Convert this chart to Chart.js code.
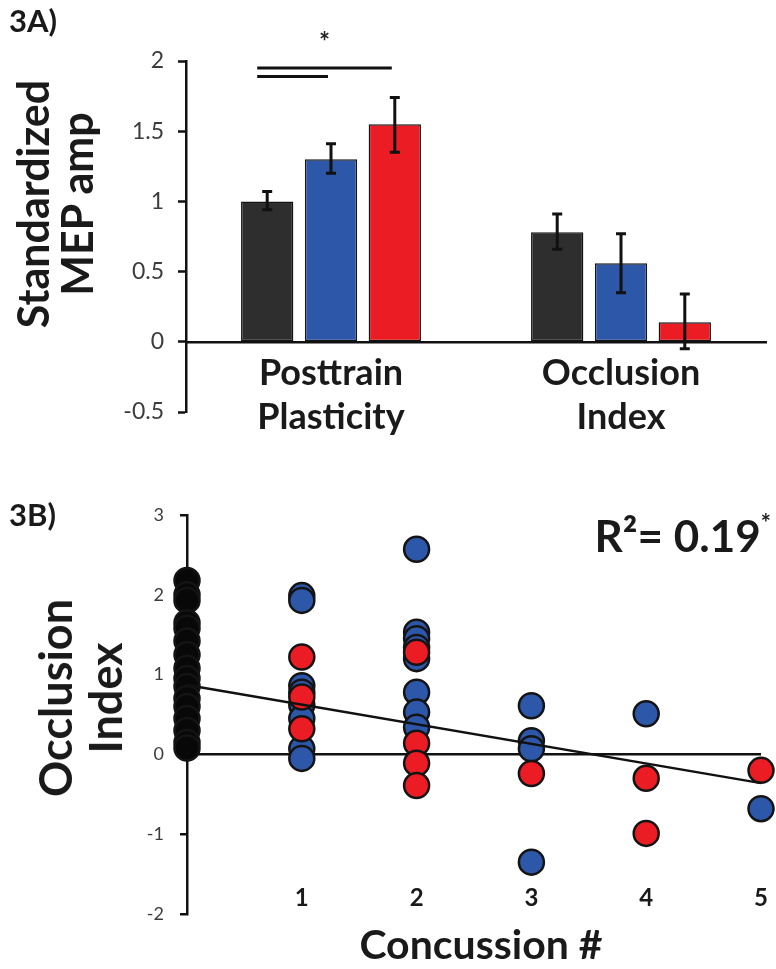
<!DOCTYPE html>
<html>
<head>
<meta charset="utf-8">
<script src="https://cdn.jsdelivr.net/npm/chart.js@4.4.1/dist/chart.umd.min.js"></script>
<style>
  body { margin: 0; background: #fff; }
  #wrap { position: relative; width: 776px; height: 969px; font-family: Lato, "Open Sans", sans-serif; color: #1a1a1a; }
  canvas { position: absolute; left: 0; }
  #barChart { top: 0; }
  #scatterChart { top: 470px; }
  .lbl { position: absolute; font-weight: bold; white-space: nowrap; }
  .rot { transform: translate(-50%, -50%) rotate(-90deg); text-align: center; }
  .panel { font-size: 31px; left: 9px; }
</style>
</head>
<body>
<div id="wrap">
  <canvas id="barChart" width="776" height="470"></canvas>
  <canvas id="scatterChart" width="776" height="499"></canvas>

  <div class="lbl panel" style="top: 1px;">3A)</div>
  <div class="lbl panel" style="top: 495px;">3B)</div>
  <div class="lbl rot" style="left: 55px; top: 204px; font-size: 43px; line-height: 44px;">Standardized<br>MEP amp</div>
  <div class="lbl rot" style="left: 80px; top: 698px; font-size: 45px; line-height: 50px;">Occlusion<br>Index</div>
  <div class="lbl" style="left: 481px; top: 943px; transform: translate(-50%, -50%); font-size: 41px;">Concussion #</div>
  <div class="lbl" style="right: 5px; top: 508px; font-size: 44px;">R²= 0.19<span style="font-size: 24px; vertical-align: 20px;">*</span></div>
</div>

<script>
// Panel A: barras con error
const categorias = [['Posttrain', 'Plasticity'], ['Occlusion', 'Index']];
const negroMedia = [1.00, 0.78];
const negroBajo = [0.94, 0.66];
const negroAlto = [1.07, 0.91];
const azulMedia = [1.30, 0.56];
const azulBajo = [1.20, 0.35];
const azulAlto = [1.41, 0.77];
const rojoMedia = [1.55, 0.14];
const rojoBajo = [1.35, -0.05];
const rojoAlto = [1.74, 0.34];
const ticksA = [-0.5, 0, 0.5, 1, 1.5, 2];
// comparaciones significativas: [desde serie, hasta serie, altura]
const comparaciones = [[0, 2, 1.95], [0, 1, 1.89]];

// Panel B: dispersión
const negroConmociones = [0, 0, 0, 0, 0, 0, 0, 0, 0, 0, 0, 0, 0, 0, 0, 0];
const negroOclusion = [2.18, 2.0, 1.93, 1.65, 1.58, 1.42, 1.25, 1.08, 0.95, 0.85, 0.7, 0.6, 0.45, 0.3, 0.15, 0.08];
const azulConmociones = [1, 1, 1, 1, 1, 1, 1, 1, 2, 2, 2, 2, 2, 2, 2, 2, 3, 3, 3, 3, 4, 5];
const azulOclusion = [1.99, 1.93, 0.86, 0.78, 0.62, 0.45, 0.07, -0.05, 2.57, 1.53, 1.45, 1.34, 1.2, 0.78, 0.53, 0.34, 0.61, 0.17, 0.07, -1.35, 0.51, -0.68];
const rojoConmociones = [1, 1, 1, 2, 2, 2, 2, 3, 4, 4, 5];
const rojoOclusion = [1.22, 0.72, 0.32, 1.28, 0.14, -0.11, -0.39, -0.24, -0.3, -0.99, -0.2];
const tendenciaX = [0, 5];
const tendenciaY = [0.87, -0.36];
const ticksBx = [1, 2, 3, 4, 5];
const ticksBy = [-2, -1, 0, 1, 2, 3];

const NEGRO = '#2e2e2e';
const AZUL = '#2d57a8';
const ROJO = '#eb1c24';
const BORDE = '#141414';

const medias = [negroMedia, azulMedia, rojoMedia];
const bajos = [negroBajo, azulBajo, rojoBajo];
const altos = [negroAlto, azulAlto, rojoAlto];

// Barras de error y líneas de significancia
const errorBars = {
    id: 'errorBars',
    afterDatasetsDraw(chart) {
        const ctx = chart.ctx;
        const y = chart.scales.y;
        ctx.save();
        ctx.strokeStyle = '#111';
        ctx.lineWidth = 3;
        medias.forEach((serie, d) => {
            chart.getDatasetMeta(d).data.forEach((bar, i) => {
                const yA = y.getPixelForValue(altos[d][i]);
                const yB = y.getPixelForValue(bajos[d][i]);
                ctx.beginPath();
                ctx.moveTo(bar.x, yA); ctx.lineTo(bar.x, yB);
                ctx.moveTo(bar.x - 5, yA); ctx.lineTo(bar.x + 5, yA);
                ctx.moveTo(bar.x - 5, yB); ctx.lineTo(bar.x + 5, yB);
                ctx.stroke();
            });
        });
        comparaciones.forEach(([a, b, v], k) => {
            const x0 = chart.getDatasetMeta(a).data[0].x - 10;
            const x1 = chart.getDatasetMeta(b).data[0].x - 3;
            const py = y.getPixelForValue(v);
            ctx.beginPath();
            ctx.moveTo(x0, py); ctx.lineTo(x1, py);
            ctx.stroke();
            if (k === 0) {
                ctx.fillStyle = '#222';
                ctx.font = 'bold 26px Lato';
                ctx.textAlign = 'center';
                ctx.fillText('*', (x0 + x1) / 2, py - 17);
            }
        });
        ctx.restore();
    }
};

new Chart(document.getElementById('barChart'), {
    type: 'bar',
    data: {
        labels: categorias,
        datasets: medias.map((serie, d) => ({
            data: serie,
            backgroundColor: [NEGRO, AZUL, ROJO][d],
            borderColor: BORDE,
            borderWidth: 1.5,
            borderSkipped: false,
            categoryPercentage: 0.66,
            barPercentage: 0.82
        }))
    },
    options: {
        responsive: false,
        animation: false,
        layout: { padding: { top: 61, right: 10, bottom: 58, left: 0 } },
        plugins: { legend: { display: false }, tooltip: { enabled: false } },
        scales: {
            x: {
                position: { y: 0 },
                grid: { display: false, drawTicks: false },
                border: { display: true, color: '#111', width: 2.5 },
                ticks: { color: '#1a1a1a', padding: 10, font: { family: 'Lato', size: 36, weight: 'bold', lineHeight: 1.22 } }
            },
            y: {
                min: -0.5,
                max: 2,
                afterFit: s => { s.width = 186; },
                afterBuildTicks: s => { s.ticks = ticksA.map(v => ({ value: v })); },
                grid: { drawOnChartArea: false, tickLength: 8, tickColor: '#111', tickWidth: 2.5 },
                border: { color: '#111', width: 2.5 },
                ticks: { color: '#3c3c3c', padding: 14, font: { family: 'Lato', size: 23 }, callback: v => String(v) }
            }
        }
    },
    plugins: [errorBars]
});

// Panel B
const puntos = (xs, ys) => xs.map((x, i) => ({ x: x, y: ys[i] }));
const estiloPunto = color => ({
    type: 'scatter',
    backgroundColor: color,
    borderColor: BORDE,
    borderWidth: 2.5,
    pointRadius: 12.5,
    clip: false
});

new Chart(document.getElementById('scatterChart'), {
    type: 'scatter',
    data: {
        datasets: [
            {
                type: 'line',
                data: puntos(tendenciaX, tendenciaY),
                borderColor: '#111',
                borderWidth: 2.5,
                pointRadius: 0,
                clip: false
            },
            Object.assign({ data: puntos(rojoConmociones, rojoOclusion) }, estiloPunto(ROJO)),
            Object.assign({ data: puntos(azulConmociones, azulOclusion) }, estiloPunto(AZUL)),
            Object.assign({ data: puntos(negroConmociones, negroOclusion) }, estiloPunto('#080808'))
        ]
    },
    options: {
        responsive: false,
        animation: false,
        layout: { padding: { top: 45, right: 13, bottom: 55, left: 0 } },
        plugins: { legend: { display: false }, tooltip: { enabled: false } },
        scales: {
            x: {
                type: 'linear',
                position: { y: -2 },
                min: 0,
                max: 5,
                afterBuildTicks: s => { s.ticks = ticksBx.map(v => ({ value: v })); },
                grid: { display: false, drawTicks: false },
                border: { display: false },
                ticks: { color: '#1a1a1a', padding: -30, font: { family: 'Lato', size: 24, weight: 'bold' } }
            },
            y: {
                min: -2,
                max: 3,
                afterFit: s => { s.width = 187; },
                afterBuildTicks: s => { s.ticks = ticksBy.map(v => ({ value: v })); },
                grid: {
                    color: c => c.tick && c.tick.value === 0 ? '#111' : 'rgba(0,0,0,0)',
                    lineWidth: 2.5,
                    tickLength: 7,
                    tickColor: '#111'
                },
                border: { color: '#111', width: 2.5 },
                ticks: { color: '#3c3c3c', padding: 16, font: { family: 'Lato', size: 18 } }
            }
        }
    }
});
</script>
</body>
</html>
